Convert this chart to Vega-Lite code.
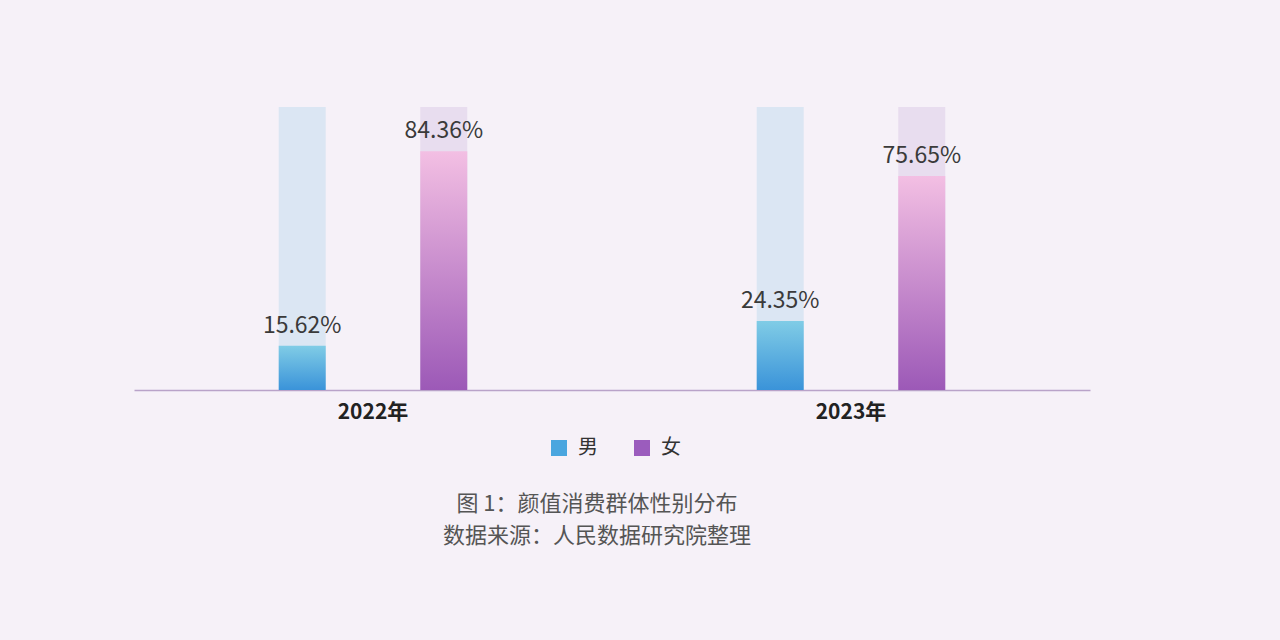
{
  "$schema": "https://vega.github.io/schema/vega-lite/v6.json",
  "width": 956,
  "height": 283,
  "autosize": {"type": "none"},
  "padding": {"left": 134, "top": 107, "right": 190, "bottom": 250},
  "background": "#f6f1f8",
  "config": {
    "view": {"stroke": null},
    "font": "Noto Sans CJK SC",
    "axis": {"grid": false}
  },
  "title": {
    "text": "图 1：颜值消费群体性别分布",
    "subtitle": "数据来源：人民数据研究院整理",
    "orient": "bottom",
    "anchor": "middle",
    "dx": -15,
    "offset": 36,
    "font": "Noto Sans CJK SC",
    "fontSize": 22,
    "fontWeight": "normal",
    "color": "#555555",
    "subtitleFont": "Noto Sans CJK SC",
    "subtitleFontSize": 22,
    "subtitleColor": "#555555",
    "subtitlePadding": 10
  },
  "data": {
    "values": [
      {"year": "2022年", "sex": "男", "value": 15.62, "label": "15.62%"},
      {"year": "2022年", "sex": "女", "value": 84.36, "label": "84.36%"},
      {"year": "2023年", "sex": "男", "value": 24.35, "label": "24.35%"},
      {"year": "2023年", "sex": "女", "value": 75.65, "label": "75.65%"}
    ]
  },
  "encoding": {
    "x": {
      "field": "year",
      "type": "nominal",
      "scale": {"paddingInner": 0.4, "paddingOuter": 0.2},
      "axis": {
        "title": null,
        "labelAngle": 0,
        "ticks": false,
        "domainColor": "#b9a3c9",
        "domainWidth": 1.5,
        "labelFont": "Noto Sans CJK SC",
        "labelFontWeight": "bold",
        "labelFontSize": 21,
        "labelColor": "#222222",
        "labelPadding": 11
      }
    },
    "xOffset": {
      "field": "sex",
      "type": "nominal",
      "sort": ["男", "女"],
      "scale": {"paddingInner": 0.668, "paddingOuter": 0.347}
    }
  },
  "layer": [
    {
      "transform": [{"filter": "datum.sex === '男'"}],
      "mark": {"type": "bar", "color": "#dbe6f3"},
      "encoding": {"y": {"datum": 100, "type": "quantitative", "scale": {"domain": [0, 100]}, "axis": null}}
    },
    {
      "transform": [{"filter": "datum.sex === '女'"}],
      "mark": {"type": "bar", "color": "#e8ddef"},
      "encoding": {"y": {"datum": 100, "type": "quantitative", "axis": null}}
    },
    {
      "mark": {"type": "bar"},
      "encoding": {
        "y": {"datum": 0, "type": "quantitative", "axis": null},
        "color": {
          "field": "sex",
          "type": "nominal",
          "sort": ["男", "女"],
          "scale": {"domain": ["男", "女"], "range": ["#4aa6df", "#9b5cbd"]},
          "legend": {
            "orient": "none",
            "legendX": 415,
            "legendY": 331,
            "direction": "horizontal",
            "title": null,
            "symbolType": "square",
            "symbolSize": 256,
            "symbolStrokeWidth": 0,
            "symbolOpacity": 1,
            "labelFont": "Noto Sans CJK SC",
            "labelFontSize": 20,
            "labelColor": "#333333",
            "labelOffset": 9,
            "columnPadding": 34
          }
        }
      }
    },
    {
      "transform": [{"filter": "datum.sex === '男'"}],
      "mark": {
        "type": "bar",
        "color": {
          "gradient": "linear",
          "x1": 0, "y1": 0, "x2": 0, "y2": 1,
          "stops": [
            {"offset": 0, "color": "#80cce6"},
            {"offset": 1, "color": "#3a93d9"}
          ]
        }
      },
      "encoding": {"y": {"field": "value", "type": "quantitative", "axis": null}}
    },
    {
      "transform": [{"filter": "datum.sex === '女'"}],
      "mark": {
        "type": "bar",
        "color": {
          "gradient": "linear",
          "x1": 0, "y1": 0, "x2": 0, "y2": 1,
          "stops": [
            {"offset": 0, "color": "#f3bfe3"},
            {"offset": 1, "color": "#9c59b7"}
          ]
        }
      },
      "encoding": {"y": {"field": "value", "type": "quantitative", "axis": null}}
    },
    {
      "mark": {
        "type": "text",
        "baseline": "bottom",
        "dy": -8,
        "font": "Noto Sans CJK SC",
        "fontSize": 23,
        "fontWeight": "normal",
        "color": "#3a3a3a"
      },
      "encoding": {
        "y": {"field": "value", "type": "quantitative", "axis": null},
        "text": {"field": "label"}
      }
    }
  ]
}
